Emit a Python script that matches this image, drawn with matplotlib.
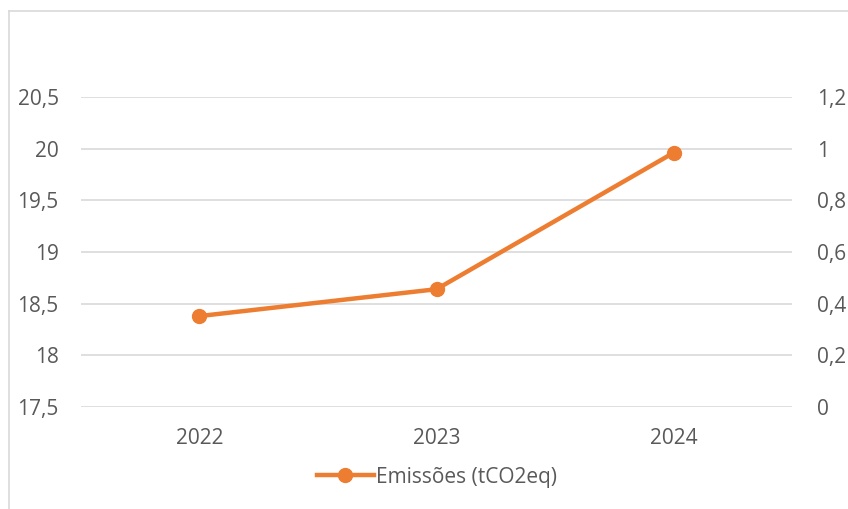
import matplotlib.pyplot as plt
from matplotlib.lines import Line2D

plt.rcParams['font.family'] = ['Open Sans', 'DejaVu Sans']

# dados
anos = ['2022', '2023', '2024']
emissoes = [18.38, 18.64, 19.96]
ticks_esq = [17.5, 18, 18.5, 19, 19.5, 20, 20.5]
ticks_dir = [0, 0.2, 0.4, 0.6, 0.8, 1, 1.2]

cor = '#ED7D31'
cinza_txt = '#595959'
fs = 15

fig = plt.figure(figsize=(8.48, 5.09), dpi=100)
ax = fig.add_axes([0.0955, 0.2004, 0.8385, 0.609])

x = range(len(anos))
ax.plot(x, emissoes, color=cor, linewidth=3.2, marker='o', markersize=10, solid_capstyle='round')

ax.set_xlim(-0.5, 2.5)
ax.set_ylim(17.5, 20.5)
ax.set_xticks(list(x))
ax.set_xticklabels(anos)
ax.set_yticks(ticks_esq)
ax.set_yticklabels([('%g' % t).replace('.', ',') for t in ticks_esq])
ax.grid(axis='y', color='#D9D9D9', linewidth=1.2)
ax.set_axisbelow(True)
for s in ax.spines.values():
    s.set_visible(False)
ax.tick_params(length=0, labelsize=fs, colors=cinza_txt, pad=16)
ax.tick_params(axis='x', pad=15)

ax2 = ax.twinx()
ax2.set_ylim(0, 1.2)
ax2.set_yticks(ticks_dir)
ax2.set_yticklabels([('%g' % t).replace('.', ',') for t in ticks_dir])
for s in ax2.spines.values():
    s.set_visible(False)
ax2.tick_params(length=0, labelsize=fs, colors=cinza_txt, pad=18)

# borda do gráfico
fig.add_artist(Line2D([9/848, 1], [1-11/509, 1-11/509], color='#D9D9D9', linewidth=1.2))
fig.add_artist(Line2D([9/848, 9/848], [0, 1-11/509], color='#D9D9D9', linewidth=1.2))

leg = fig.legend(handles=[Line2D([], [], color=cor, linewidth=3.2, marker='o', markersize=10)],
                 labels=['Emissões (tCO2eq)'], loc='center', bbox_to_anchor=(437/848, 1-477/509),
                 frameon=False, fontsize=fs, handlelength=2.7, handletextpad=0.1)
for t in leg.get_texts():
    t.set_color(cinza_txt)

fig.savefig('out.png', dpi=100)
